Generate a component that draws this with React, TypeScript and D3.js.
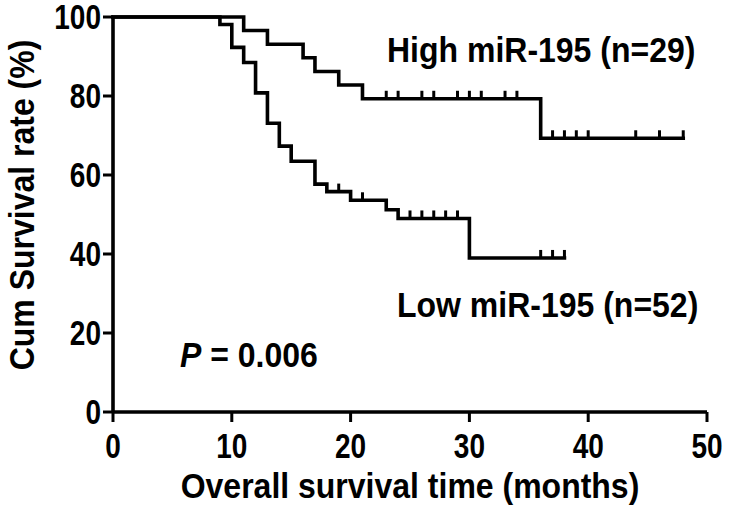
import React from "react";
import * as d3 from "d3";

// High miR-195 group (n=29): step times (months) and survival (%)
const highTimes = [0, 11, 13, 16, 17, 19, 21, 36];
const highSurv = [100, 96.6, 93.1, 89.7, 86.2, 82.8, 79.3, 69.3];
const highEnd = 48;
const highCensor = [23, 24, 26, 27, 29, 30, 31, 33, 34, 37, 38, 39, 40, 44, 46, 48];

// Low miR-195 group (n=52)
const lowTimes = [0, 9, 10, 11, 12, 13, 14, 15, 17, 18, 20, 23, 24, 30];
const lowSurv = [100, 98.1, 92.3, 88.5, 80.8, 73.1, 67.3, 63.5, 57.7, 55.8, 53.6, 51.2, 49.0, 39.0];
const lowEnd = 38;
const lowCensor = [19, 21, 25, 26, 27, 28, 29, 36, 37, 38];

const xTicks = [0, 10, 20, 30, 40, 50];
const yTicks = [0, 20, 40, 60, 80, 100];

const FONT = "'Liberation Sans', Arial, Helvetica, sans-serif";

function survAt(times: number[], surv: number[], t: number) {
  let s = surv[0];
  for (let i = 0; i < times.length; i++) if (times[i] <= t) s = surv[i];
  return s;
}

export default function App() {
  const W = 730, H = 513;
  const x = d3.scaleLinear().domain([0, 50]).range([113, 707]);
  const y = d3.scaleLinear().domain([0, 100]).range([412, 17]);
  const line = d3
    .line<[number, number]>()
    .x((d) => x(d[0]))
    .y((d) => y(d[1]))
    .curve(d3.curveStepAfter);

  const series = [
    { times: highTimes, surv: highSurv, end: highEnd, censor: highCensor },
    { times: lowTimes, surv: lowSurv, end: lowEnd, censor: lowCensor },
  ];

  const sw = 3.6;
  const tickStretch = 1.22;
  const textStretch = 1.1;

  return (
    <svg
      width={W}
      height={H}
      style={{ position: "absolute", left: 0, top: 0, background: "#fff" }}
    >
      <rect width={W} height={H} fill="#fff" />
      {series.map((s, i) => {
        const pts: [number, number][] = s.times.map((t, j) => [t, s.surv[j]]);
        pts.push([s.end, s.surv[s.surv.length - 1]]);
        return (
          <g key={i}>
            <path
              d={line(pts) || ""}
              fill="none"
              stroke="#000"
              strokeWidth={sw}
              strokeLinejoin="miter"
              strokeLinecap="square"
            />
            {s.censor.map((c, k) => {
              const v = survAt(s.times, s.surv, c);
              return (
                <line
                  key={k}
                  x1={x(c)}
                  x2={x(c)}
                  y1={y(v)}
                  y2={y(v) - 8}
                  stroke="#000"
                  strokeWidth={3}
                />
              );
            })}
          </g>
        );
      })}
      {/* axes */}
      <line x1={x(0)} x2={x(0)} y1={y(0)} y2={y(100)} stroke="#000" strokeWidth={sw} />
      <line x1={x(0)} x2={x(50)} y1={y(0)} y2={y(0)} stroke="#000" strokeWidth={sw} />
      {yTicks.map((t) => (
        <g key={"y" + t}>
          <line x1={x(0) - 10} x2={x(0)} y1={y(t)} y2={y(t)} stroke="#000" strokeWidth={3} />
          <text
            transform={`translate(${x(0) - 12},${y(t) + 12}) scale(1,${tickStretch})`}
            textAnchor="end"
            fontFamily={FONT}
            fontWeight="bold"
            fontSize={28}
          >
            {t}
          </text>
        </g>
      ))}
      {xTicks.map((t) => (
        <g key={"x" + t}>
          <line x1={x(t)} x2={x(t)} y1={y(0)} y2={y(0) + 10} stroke="#000" strokeWidth={3} />
          <text
            transform={`translate(${x(t)},458) scale(1,${tickStretch})`}
            textAnchor="middle"
            fontFamily={FONT}
            fontWeight="bold"
            fontSize={28}
          >
            {t}
          </text>
        </g>
      ))}
      <text
        transform={`translate(34,205) rotate(-90) scale(1,${textStretch})`}
        textAnchor="middle"
        fontFamily={FONT}
        fontWeight="bold"
        fontSize={32}
      >
        Cum Survival rate (%)
      </text>
      <text
        transform={`translate(410,498) scale(1,${textStretch})`}
        textAnchor="middle"
        fontFamily={FONT}
        fontWeight="bold"
        fontSize={32}
      >
        Overall survival time (months)
      </text>
      <text
        transform={`translate(387,62) scale(1,${textStretch})`}
        fontFamily={FONT}
        fontWeight="bold"
        fontSize={32}
      >
        High miR-195 (n=29)
      </text>
      <text
        transform={`translate(397,317) scale(1,${textStretch})`}
        fontFamily={FONT}
        fontWeight="bold"
        fontSize={32}
      >
        Low miR-195 (n=52)
      </text>
      <text
        transform={`translate(180,367) scale(1,${textStretch})`}
        fontFamily={FONT}
        fontWeight="bold"
        fontSize={32}
      >
        <tspan fontStyle="italic">P</tspan> = 0.006
      </text>
    </svg>
  );
}
